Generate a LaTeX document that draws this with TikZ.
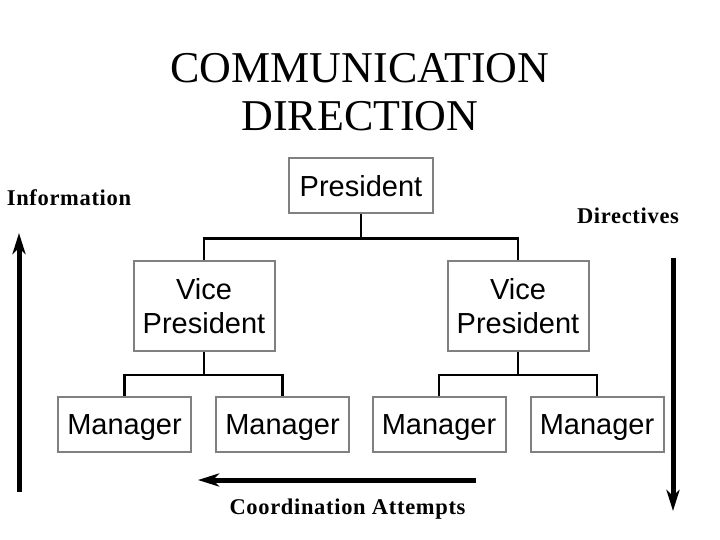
\documentclass[tikz,border=0pt]{standalone}
\usepackage{fontspec}
\setmainfont{Liberation Serif}
\newfontfamily\boxfont{Liberation Sans}
\newfontfamily\labelfont[LetterSpace=3]{Liberation Serif}
\usetikzlibrary{arrows.meta,positioning}

\begin{document}
\begin{tikzpicture}[x=1pt,y=-1pt,
    box/.style={draw=gray, line width=2pt, fill=white, inner sep=0pt, font=\boxfont\fontsize{29}{34}\selectfont},
    onebox/.style={box, text height=20.8pt, text depth=0pt},
    link/.style={line width=2.2pt},
    flow/.style={line width=5pt, -{Stealth[length=21pt,width=13pt,inset=6pt]}},
    lbl/.style={font=\labelfont\bfseries\fontsize{22.5}{26}\selectfont, inner sep=0pt, anchor=base}]
    \useasboundingbox (0,0) rectangle (720,540);

    % title
    \node[font=\fontsize{44}{48}\selectfont, align=center, inner sep=0pt] (title) at (360,92) {COMMUNICATION\\DIRECTION};

    % chart
    \node[onebox, minimum width=144pt, minimum height=55pt] (pres) at (361,186) {President};
    \node[box, align=center, minimum width=141pt, minimum height=90pt] (vpl) at (204,306) {Vice\\President};
    \node[box, align=center, minimum width=141pt, minimum height=90pt] (vpr) at (518,306) {Vice\\President};
    \node[onebox, minimum width=133pt, minimum height=55pt] (mgra) at (124.5,424.5) {Manager};
    \node[onebox, minimum width=133pt, minimum height=55pt] (mgrb) at (282.5,424.5) {Manager};
    \node[onebox, minimum width=133pt, minimum height=55pt] (mgrc) at (439,424.5) {Manager};
    \node[onebox, minimum width=133pt, minimum height=55pt] (mgrd) at (597,424.5) {Manager};

    \draw[link] (pres.south) -- ++(0,24) coordinate (jtop);
    \draw[link] (vpl.north) |- (jtop) -| (vpr.north);
    \draw[link] (vpl.south) -- ++(0,23) coordinate (jleft);
    \draw[link] (mgra.north) |- (jleft) -| (mgrb.north);
    \draw[link] (vpr.south) -- ++(0,23) coordinate (jright);
    \draw[link] (mgrc.north) |- (jright) -| (mgrd.north);

    % direction arrows
    \coordinate (infobot) at (19,492);
    \coordinate (infotop) at (19,233);
    \coordinate (dirtop) at (673,258);
    \coordinate (dirbot) at (673,511);
    \coordinate (coordright) at (476,480);
    \coordinate (coordleft) at (198,480);
    \draw[flow] (infobot) -- (infotop);
    \draw[flow] (dirtop) -- (dirbot);
    \draw[flow] (coordright) -- (coordleft);

    \node[lbl] (info) at (69,206) {Information};
    \node[lbl] (dir) at (628,223) {Directives};
    \node[lbl] (coord) at (347.5,514) {Coordination Attempts};
\end{tikzpicture}
\end{document}
